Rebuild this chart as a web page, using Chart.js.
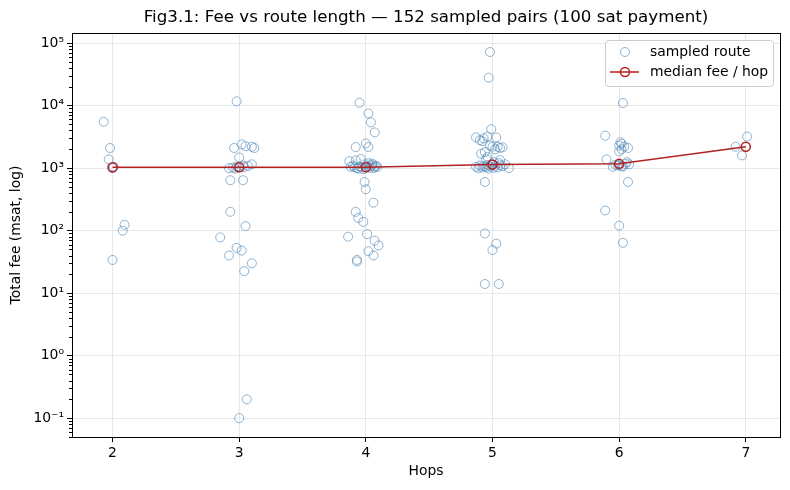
<!DOCTYPE html>
<html>
<head>
<meta charset="utf-8">
<script src="https://cdn.jsdelivr.net/npm/chart.js@4.4.1/dist/chart.umd.min.js"></script>
<style>
  html, body { margin: 0; padding: 0; background: #fff; }
  #wrap { width: 790px; height: 490px; }
</style>
</head>
<body>
<div id="wrap"><canvas id="feeChart" width="790" height="490"></canvas></div>
<script>
// sampled routes: x is the hop count with the jitter as plotted, fee in msat
var hops2X   = [1.93, 1.98, 1.97, 2.01, 2.00, 2.095, 2.08, 2.00]
var hops2Fee = [5500, 2100, 1380, 1050, 1000, 124, 100, 34]

var hops3X   = [2.98, 2.96, 3.02, 3.05, 3.10, 3.12, 3.00,
                2.92, 2.95, 2.98, 3.00, 3.04, 3.07, 3.10, 2.97, 3.03,
                2.93, 3.03, 2.93, 3.05, 2.85, 2.98, 3.02, 2.92, 3.10, 3.04, 3.06, 3.00]
var hops3Fee = [11700, 2100, 2400, 2240, 2200, 2100, 1480,
                1000, 1020, 1060, 1050, 1040, 1080, 1150, 980, 1100,
                640, 640, 200, 118, 78, 53, 48, 40, 30, 22.5, 0.2, 0.1]

var hops4X   = [3.95, 4.02, 4.04, 4.07, 3.92, 4.00, 4.02,
                3.99, 4.00, 4.06, 3.92, 3.94, 3.98, 3.86, 4.01, 4.07, 4.10, 4.02, 4.06, 3.93, 3.93,
                3.87, 3.92, 3.96, 3.88, 3.90, 3.93, 3.95, 3.97, 3.99, 4.00, 4.01, 4.03,
                4.04, 4.05, 4.06, 4.07, 4.08, 4.09, 4.02, 3.94, 3.98, 4.05, 3.91]
var hops4Fee = [11100, 7500, 5400, 3730, 2170, 2480, 2170,
                600, 460, 280, 200, 160, 138, 80, 88, 69, 58, 47, 40, 34, 32,
                1290, 1330, 1400, 1050, 1100, 1000, 1060, 1020, 1150, 1030, 1080, 1010,
                1070, 1120, 1000, 1050, 1090, 1040, 1200, 980, 960, 1180, 1035]

var hops5X   = [4.98, 4.97, 4.99,
                4.87, 4.90, 4.93, 4.96, 5.03, 4.92,
                5.00, 5.04, 5.06, 5.08, 4.98, 5.02,
                4.96, 5.06, 4.95, 5.01, 5.05, 4.91, 4.94,
                4.94, 4.94, 5.03, 5.00, 4.94, 5.05,
                4.87, 4.89, 4.90, 4.92, 4.93, 4.95, 4.96, 4.97, 4.98,
                5.00, 5.01, 5.02, 5.04, 5.06, 5.08, 5.10, 5.13, 4.99]
var hops5Fee = [72000, 28000, 4200,
                3100, 2800, 3000, 3200, 3100, 2700,
                2200, 2200, 2100, 2150, 2300, 2000,
                1510, 1340, 1400, 1250, 1200, 1700, 1800,
                600, 90, 62, 49, 14, 14,
                1050, 1000, 1100, 1020, 1080, 1040, 1120, 980, 1060,
                1140, 1010, 1090, 1030, 1110, 1070, 1150, 1000, 1130]

var hops6X   = [6.03, 5.89, 6.01, 6.02, 6.00, 6.04, 6.07, 6.02, 6.00, 5.90, 6.06,
                5.95, 5.99, 6.02, 6.05, 6.08, 6.00, 6.03, 5.97,
                6.07, 5.89, 6.00, 6.03]
var hops6Fee = [11000, 3300, 2600, 2450, 2300, 2200, 2100, 2000, 1850, 1380, 1250,
                1050, 1100, 1080, 1170, 1150, 1120, 1060, 1130,
                600, 210, 120, 64]

var hops7X   = [7.01, 6.92, 6.97]
var hops7Fee = [3200, 2200, 1600]

// median fee per hop count
var medianHops = [2, 3, 4, 5, 6, 7]
var medianFee  = [1030, 1030, 1035, 1145, 1170, 2200]

var xTickValues = [2, 3, 4, 5, 6, 7]
var yTickValues = [0.1, 1, 10, 100, 1000, 10000, 100000]
var yTickLabels = ['10\u207B\u00B9', '10\u2070', '10\u00B9', '10\u00B2', '10\u00B3', '10\u2074', '10\u2075']

var chartTitle = 'Fig3.1: Fee vs route length \u2014 152 sampled pairs (100 sat payment)'

var allX = [].concat(hops2X, hops3X, hops4X, hops5X, hops6X, hops7X)
var allFee = [].concat(hops2Fee, hops3Fee, hops4Fee, hops5Fee, hops6Fee, hops7Fee)
var samplePoints = allX.map(function (x, i) { return { x: x, y: allFee[i] } })
var medianPoints = medianHops.map(function (h, i) { return { x: h, y: medianFee[i] } })

var pointBlue = 'rgba(70, 130, 180, 0.6)'
var fireBrick = '#b22222'
var fontFamily = '"DejaVu Sans", sans-serif'

Chart.defaults.color = '#000'
Chart.defaults.font.family = fontFamily

// title over the axes, spines, minor ticks and the legend box inside the plot
var decorations = {
    id: 'decorations',
    afterDraw: function (chart) {
        var ctx = chart.ctx
        var area = chart.chartArea
        var yScale = chart.scales.y

        ctx.save()
        ctx.fillStyle = '#000'
        ctx.font = '16.7px ' + fontFamily
        ctx.textAlign = 'center'
        ctx.textBaseline = 'middle'
        ctx.fillText(chartTitle, (area.left + area.right) / 2, 18)
        ctx.textAlign = 'left'

        ctx.strokeStyle = '#000'
        ctx.lineWidth = 1
        for (var d = -2; d <= 5; d++) {
            for (var k = 2; k <= 9; k++) {
                var v = k * Math.pow(10, d)
                if (v < yScale.min || v > yScale.max) continue
                var py = Math.round(yScale.getPixelForValue(v)) + 0.5
                ctx.beginPath()
                ctx.moveTo(area.left - 3, py)
                ctx.lineTo(area.left, py)
                ctx.stroke()
            }
        }
        ctx.strokeRect(Math.round(area.left) + 0.5, Math.round(area.top) + 0.5,
            Math.round(area.right - area.left), Math.round(area.bottom - area.top))

        // legend
        var bw = 168, bh = 46
        var bx = area.right - 7 - bw, by = area.top + 7
        ctx.beginPath()
        ctx.roundRect(bx + 0.5, by + 0.5, bw, bh, 3)
        ctx.fillStyle = 'rgba(255,255,255,0.8)'
        ctx.fill()
        ctx.strokeStyle = '#cccccc'
        ctx.stroke()

        ctx.font = '13.9px ' + fontFamily
        ctx.textBaseline = 'middle'
        ctx.fillStyle = '#000'

        var row1 = by + 12, row2 = by + 32
        ctx.lineWidth = 1
        ctx.strokeStyle = pointBlue
        ctx.beginPath()
        ctx.arc(bx + 20, row1, 4.5, 0, Math.PI * 2)
        ctx.stroke()
        ctx.fillText('sampled route', bx + 45, row1)

        ctx.strokeStyle = fireBrick
        ctx.lineWidth = 1.5
        ctx.beginPath()
        ctx.moveTo(bx + 5, row2)
        ctx.lineTo(bx + 34, row2)
        ctx.stroke()
        ctx.beginPath()
        ctx.arc(bx + 20, row2, 4.5, 0, Math.PI * 2)
        ctx.stroke()
        ctx.fillText('median fee / hop', bx + 45, row2)
        ctx.restore()
    }
}

var feeChart = new Chart(document.getElementById('feeChart').getContext('2d'), {
    type: 'scatter',
    data: {
        datasets: [{
            type: 'line',
            label: 'median fee / hop',
            data: medianPoints,
            order: 1,
            borderColor: fireBrick,
            borderWidth: 1.5,
            pointRadius: 4.5,
            pointBorderWidth: 1.5,
            pointBackgroundColor: 'rgba(0,0,0,0)',
            pointBorderColor: fireBrick,
            fill: false,
            tension: 0
        }, {
            label: 'sampled route',
            data: samplePoints,
            order: 2,
            pointRadius: 4.5,
            pointBorderWidth: 1,
            pointBackgroundColor: 'rgba(0,0,0,0)',
            pointBorderColor: pointBlue
        }]
    },
    options: {
        responsive: false,
        animation: false,
        layout: { padding: { left: 0, right: 10, top: 33, bottom: 0 } },
        plugins: {
            legend: { display: false },
            tooltip: { enabled: false },
            title: { display: false }
        },
        scales: {
            x: {
                type: 'linear',
                min: 1.68,
                max: 7.27,
                afterBuildTicks: function (scale) {
                    scale.ticks = xTickValues.map(function (v) { return { value: v } })
                },
                afterFit: function (scale) { scale.height = 53 },
                grid: { color: '#e7e7e7', tickColor: '#000', tickLength: 5 },
                border: { display: true, color: '#000' },
                ticks: { font: { size: 13.9 }, padding: 3, maxRotation: 0 },
                title: { display: true, text: 'Hops', font: { size: 13.9 }, padding: { top: 2, bottom: 10 } }
            },
            y: {
                type: 'logarithmic',
                min: 0.05,
                max: 145000,
                afterBuildTicks: function (scale) {
                    scale.ticks = yTickValues.map(function (v) { return { value: v } })
                },
                afterFit: function (scale) { scale.width = 72 },
                grid: { color: '#e7e7e7', tickColor: '#000', tickLength: 5 },
                border: { display: true, color: '#000' },
                ticks: {
                    font: { size: 13.9 },
                    padding: 3,
                    callback: function (value, index) { return yTickLabels[index] }
                },
                title: { display: true, text: 'Total fee (msat, log)', font: { size: 13.9 }, padding: { top: 8, bottom: 4 } }
            }
        }
    },
    plugins: [decorations]
})
</script>
</body>
</html>
